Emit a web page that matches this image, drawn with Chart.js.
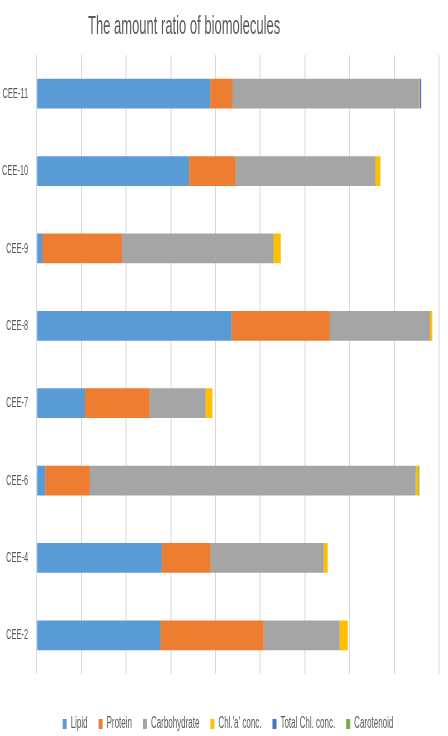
<!DOCTYPE html>
<html>
<head>
<meta charset="utf-8">
<script src="https://cdn.jsdelivr.net/npm/chart.js@4.4.1/dist/chart.umd.min.js"></script>
<style>
  html, body { margin: 0; padding: 0; background: #fff; }
  /* the chart is drawn twice as wide and squeezed back, like the narrow original */
  #grafico { display: block; width: 448px; height: 736px; }
</style>
</head>
<body>
<canvas id="grafico" width="896" height="736" style="width:448px;height:736px"></canvas>
<script>
const categorias = ['CEE-11', 'CEE-10', 'CEE-9', 'CEE-8', 'CEE-7', 'CEE-6', 'CEE-4', 'CEE-2'];

const lipid        = [3.88, 3.41, 0.13, 4.36, 1.08, 0.19, 2.80, 2.77];
const protein      = [0.50, 1.04, 1.78, 2.20, 1.45, 1.00, 1.09, 2.31];
const carbohydrate = [4.18, 3.13, 3.39, 2.24, 1.25, 7.29, 2.53, 1.70];
const chlA         = [0.01, 0.11, 0.16, 0.05, 0.15, 0.06, 0.09, 0.18];
const totalChl     = [0.03, 0.00, 0.00, 0.00, 0.00, 0.00, 0.00, 0.00];
const carotenoid   = [0.00, 0.00, 0.00, 0.00, 0.00, 0.02, 0.00, 0.00];

const titulo = 'The amount ratio of biomolecules';
const fonte = "'Liberation Sans', Arial, sans-serif";
const corTexto = '#595959';

function serie(label, data, cor) {
  return {
    label: label,
    data: data,
    backgroundColor: cor,
    borderWidth: 0,
    categoryPercentage: 1,
    barPercentage: 0.385
  };
}

// title drawn by hand so it can sit left of centre like the original,
// and the legend nudged a bit to the right
const ajustes = {
  id: 'ajustes',
  afterLayout(chart) {
    chart.legend.left += 17;
    chart.legend.right += 17;
  },
  afterDraw(chart) {
    const c = chart.ctx;
    c.save();
    c.font = '26px ' + fonte;
    c.fillStyle = corTexto;
    c.textAlign = 'left';
    c.textBaseline = 'alphabetic';
    c.fillText(titulo, 176, 34);
    c.restore();
  }
};

const ctx = document.getElementById('grafico').getContext('2d');

new Chart(ctx, {
  type: 'bar',
  data: {
    labels: categorias,
    datasets: [
      serie('Lipid', lipid, '#5B9BD5'),
      serie('Protein', protein, '#ED7D31'),
      serie('Carbohydrate', carbohydrate, '#A5A5A5'),
      serie("Chl.'a' conc.", chlA, '#FFC000'),
      serie('Total Chl. conc.', totalChl, '#4472C4'),
      serie('Carotenoid', carotenoid, '#70AD47')
    ]
  },
  plugins: [ajustes],
  options: {
    indexAxis: 'y',
    responsive: false,
    animation: false,
    layout: {
      padding: { top: 55, right: 18, bottom: -6, left: 0 }
    },
    plugins: {
      legend: {
        position: 'bottom',
        labels: {
          color: corTexto,
          boxWidth: 8,
          boxHeight: 10,
          padding: 22,
          font: { family: fonte, size: 16 }
        }
      },
      tooltip: { enabled: false }
    },
    scales: {
      x: {
        stacked: true,
        min: 0,
        max: 9,
        ticks: { display: false, stepSize: 1 },
        grid: { color: '#d9d9d9', lineWidth: 2, drawTicks: false },
        border: { display: false },
        afterFit: function (scale) { scale.height = 20; }
      },
      y: {
        stacked: true,
        ticks: {
          color: corTexto,
          padding: 17,
          font: { family: fonte, size: 15 }
        },
        grid: { display: false, drawTicks: false },
        border: { display: false },
        afterFit: function (scale) { scale.width = 73.4; }
      }
    }
  }
});
</script>
</body>
</html>
